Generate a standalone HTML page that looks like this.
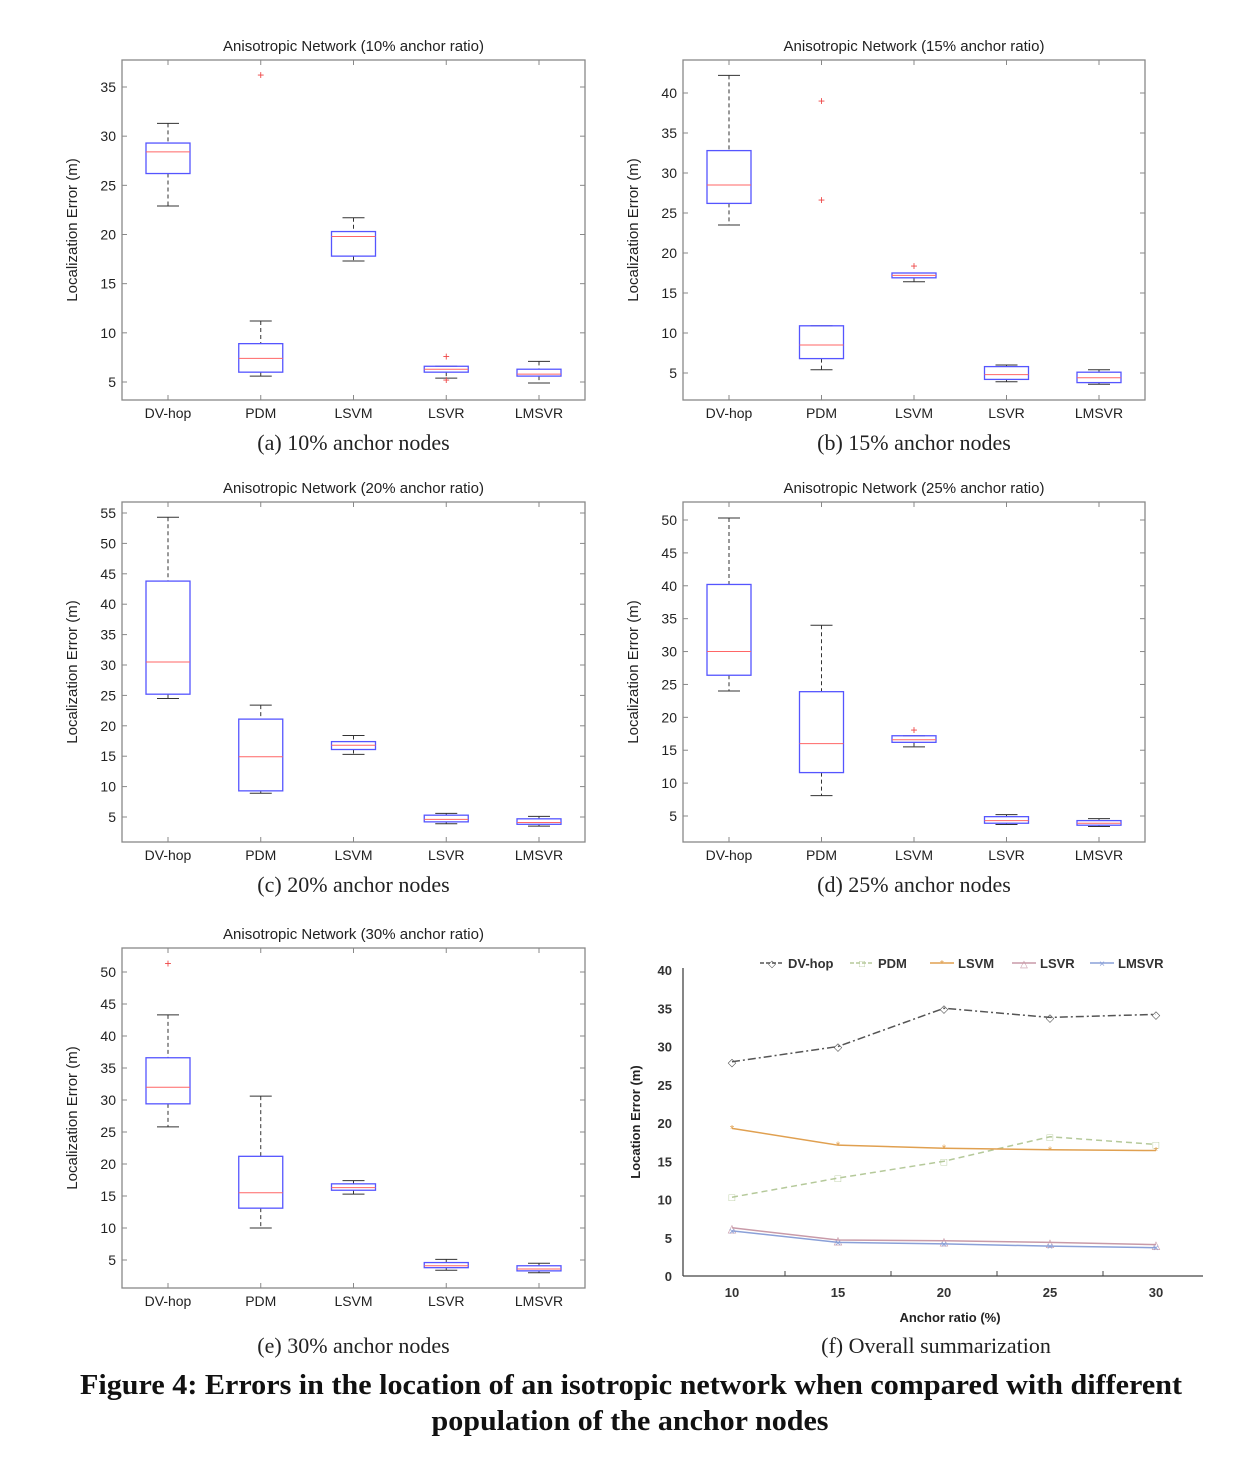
<!DOCTYPE html>
<html><head><meta charset="utf-8"><style>
body{margin:0;background:#fff;width:1234px;height:1452px;overflow:hidden}
svg text{font-family:"Liberation Sans",sans-serif}
</style></head><body>
<svg id="s" width="1234" height="1452" xmlns="http://www.w3.org/2000/svg"></svg>
<script>
const S=document.getElementById('s');let h='';
const cats=['DV-hop','PDM','LSVM','LSVR','LMSVR'];
function panel(L,T,R,B,vTop,yTop,v5y,ticks,title,cap,data,capOff){
 const k=(v5y-yTop)/(vTop-5);const Y=v=>v5y-(v-5)*k;
 const xs=[0,1,2,3,4].map(i=>L+46+i*(R-L-92)/4);
 h+=`<rect x="${L}" y="${T}" width="${R-L}" height="${B-T}" fill="none" stroke="#888" stroke-width="1.3"/>`;
 h+=`<text x="${(L+R)/2}" y="${T-9}" font-size="15" text-anchor="middle" fill="#222">${title}</text>`;
 for(const t of ticks){const y=Y(t);h+=`<line x1="${L}" x2="${L+5}" y1="${y}" y2="${y}" stroke="#888"/><line x1="${R-5}" x2="${R}" y1="${y}" y2="${y}" stroke="#888"/><text x="${L-6}" y="${y+5}" font-size="14" text-anchor="end" fill="#222">${t}</text>`;}
 xs.forEach((x,i)=>{h+=`<line x1="${x}" x2="${x}" y1="${T}" y2="${T+5}" stroke="#888"/><line x1="${x}" x2="${x}" y1="${B-5}" y2="${B}" stroke="#888"/><text x="${x}" y="${B+18}" font-size="14" text-anchor="middle" fill="#222">${cats[i]}</text>`;
  const [q1,m,q3,lo,hi,out]=data[i];const w=22;
  h+=`<line x1="${x}" x2="${x}" y1="${Y(hi)}" y2="${Y(q3)}" stroke="#333" stroke-dasharray="4,3"/><line x1="${x}" x2="${x}" y1="${Y(q1)}" y2="${Y(lo)}" stroke="#333" stroke-dasharray="4,3"/>`;
  h+=`<line x1="${x-11}" x2="${x+11}" y1="${Y(hi)}" y2="${Y(hi)}" stroke="#333"/><line x1="${x-11}" x2="${x+11}" y1="${Y(lo)}" y2="${Y(lo)}" stroke="#333"/>`;
  h+=`<rect x="${x-w}" y="${Y(q3)}" width="${2*w}" height="${Y(q1)-Y(q3)}" fill="none" stroke="#55f" stroke-width="1.3"/><line x1="${x-w}" x2="${x+w}" y1="${Y(m)}" y2="${Y(m)}" stroke="#f66"/>`;
  (out||[]).forEach(o=>{h+=`<text x="${x}" y="${Y(o)+4}" font-size="12" text-anchor="middle" fill="#e44">+</text>`});
 });
 h+=`<text transform="translate(${L-45},${(T+B)/2}) rotate(-90)" font-size="15" text-anchor="middle" fill="#222">Localization Error (m)</text>`;
 h+=`<text x="${(L+R)/2}" y="${B+(capOff||50)}" font-size="22" text-anchor="middle" fill="#222" style="font-family:'Liberation Serif',serif">${cap}</text>`;
}
panel(122,60,585,400,35,87,382,[5,10,15,20,25,30,35],'Anisotropic Network (10% anchor ratio)','(a) 10% anchor nodes',
[[26.2,28.4,29.3,22.9,31.3],[6,7.4,8.9,5.6,11.2,[36.2]],[17.8,19.8,20.3,17.3,21.7],[6,6.3,6.6,5.4,6.6,[7.6,5.2]],[5.6,5.8,6.3,4.9,7.1]]);
panel(683,60,1145,400,40,93,373,[5,10,15,20,25,30,35,40],'Anisotropic Network (15% anchor ratio)','(b) 15% anchor nodes',
[[26.2,28.5,32.8,23.5,42.2],[6.8,8.5,10.9,5.4,10.9,[39,26.6]],[16.9,17.2,17.5,16.4,17.5,[18.4]],[4.2,4.8,5.8,3.9,6],[3.8,4.4,5.1,3.6,5.4]]);
panel(122,502,585,842,55,513,817,[5,10,15,20,25,30,35,40,45,50,55],'Anisotropic Network (20% anchor ratio)','(c) 20% anchor nodes',
[[25.2,30.5,43.8,24.5,54.3],[9.3,14.9,21.1,8.9,23.4],[16.1,16.8,17.4,15.3,18.4],[4.2,4.6,5.3,3.9,5.6],[3.8,4.1,4.7,3.5,5.1]]);
panel(683,502,1145,842,50,520,816,[5,10,15,20,25,30,35,40,45,50],'Anisotropic Network (25% anchor ratio)','(d) 25% anchor nodes',
[[26.4,30,40.2,24,50.3],[11.6,16,23.9,8.1,34],[16.2,16.6,17.2,15.5,17.2,[18.1]],[3.9,4.3,4.9,3.7,5.2],[3.6,3.9,4.3,3.4,4.6]]);
panel(122,948,585,1288,50,972,1260,[5,10,15,20,25,30,35,40,45,50],'Anisotropic Network (30% anchor ratio)','(e) 30% anchor nodes',
[[29.4,32,36.6,25.8,43.3,[51.3]],[13.1,15.5,21.2,10,30.6],[15.9,16.3,16.9,15.3,17.4],[3.8,4.1,4.6,3.4,5.1],[3.3,3.6,4.1,3.0,4.5]],65);
const fx=v=>732+(v-10)*21.2, fy=v=>1276-v*7.65;
h+=`<line x1="683" x2="683" y1="968" y2="1276" stroke="#444" stroke-width="1.3"/><line x1="683" x2="1203" y1="1276" y2="1276" stroke="#444" stroke-width="1.3"/>`;
for(let v=0;v<=40;v+=5)h+=`<text x="672" y="${fy(v)+5}" font-size="13" font-weight="bold" text-anchor="end" fill="#333">${v}</text>`;
[10,15,20,25,30].forEach(v=>h+=`<text x="${fx(v)}" y="1297" font-size="13" font-weight="bold" text-anchor="middle" fill="#333">${v}</text>`);
[12.5,17.5,22.5,27.5].forEach(v=>h+=`<line x1="${fx(v)}" x2="${fx(v)}" y1="1271" y2="1276" stroke="#444"/>`);
h+=`<text x="950" y="1322" font-size="13" font-weight="bold" text-anchor="middle" fill="#222">Anchor ratio (%)</text>`;
h+=`<text transform="translate(640,1122) rotate(-90)" font-size="13" font-weight="bold" text-anchor="middle" fill="#222">Location Error (m)</text>`;
const X=[10,15,20,25,30];
const ser=[['#555','8,3,2,3',[28,30,35,33.8,34.2],'◇'],['#b5c99a','6,4',[10.3,12.8,15,18.2,17.2],'□'],['#e0a050','',[19.3,17.1,16.7,16.5,16.4],'*'],['#c89aa8','',[6.3,4.7,4.6,4.4,4.1],'△'],['#8aa0d8','',[5.9,4.4,4.2,3.9,3.7],'×']];
ser.forEach(([c,d,v,m])=>{h+=`<polyline points="${X.map((x,i)=>fx(x)+','+fy(v[i])).join(' ')}" fill="none" stroke="${c}" stroke-width="1.5" ${d?`stroke-dasharray="${d}"`:''}/>`;
 X.forEach((x,i)=>h+=`<text x="${fx(x)}" y="${fy(v[i])+4}" font-size="11" text-anchor="middle" fill="${c}">${m}</text>`);});
const lg=[['DV-hop',760],['PDM',850],['LSVM',930],['LSVR',1012],['LMSVR',1090]];
lg.forEach(([n,x],i)=>{const c=ser[i][0];h+=`<line x1="${x}" x2="${x+24}" y1="963" y2="963" stroke="${c}" stroke-width="1.5" ${ser[i][1]?`stroke-dasharray="4,2"`:''}/><text x="${x+12}" y="967" font-size="10" text-anchor="middle" fill="${c}">${ser[i][3]}</text><text x="${x+28}" y="968" font-size="13" font-weight="bold" fill="#333">${n}</text>`;});
h+=`<text x="936" y="1353" font-size="22" text-anchor="middle" fill="#222" style="font-family:'Liberation Serif',serif">(f) Overall summarization</text>`;
h+=`<text x="631" y="1394" font-size="29" font-weight="bold" text-anchor="middle" textLength="1102" lengthAdjust="spacingAndGlyphs" fill="#111" style="font-family:'Liberation Serif',serif">Figure 4: Errors in the location of an isotropic network when compared with different</text>`;
h+=`<text x="630" y="1430" font-size="29" font-weight="bold" text-anchor="middle" textLength="397" lengthAdjust="spacingAndGlyphs" fill="#111" style="font-family:'Liberation Serif',serif">population of the anchor nodes</text>`;
S.innerHTML=h;
</script>
</body></html>
